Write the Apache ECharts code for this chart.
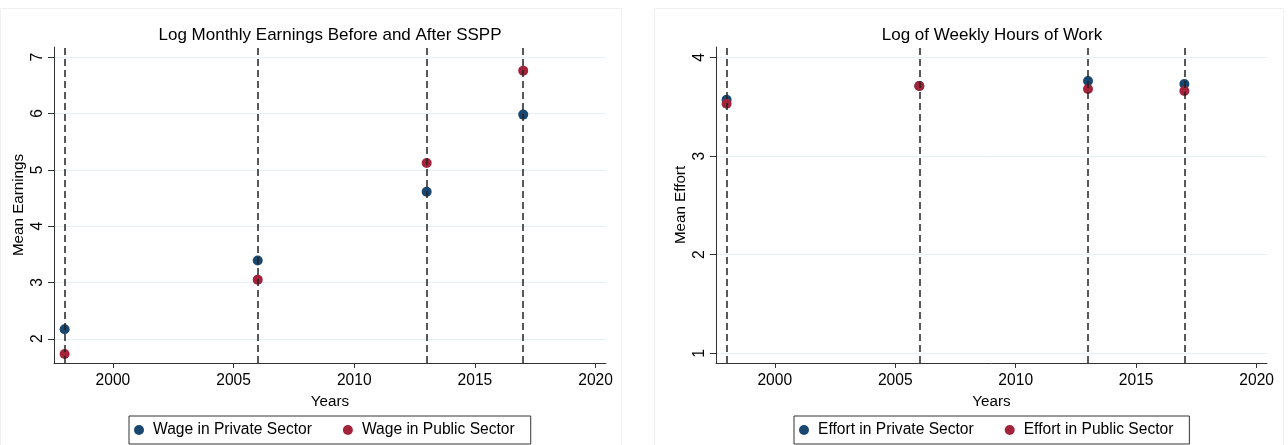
<!DOCTYPE html>
<html><head><meta charset="utf-8">
<script src="https://cdn.jsdelivr.net/npm/echarts@6/dist/echarts.min.js"></script>
<style>html,body{margin:0;padding:0;background:#fff}#c{width:1288px;height:445px}</style>
</head><body><div id="c"></div>
<script>
const years = [1998, 2006, 2013, 2017];
const wagePrivate = [2.17, 3.39, 4.61, 5.98];
const wagePublic = [1.73, 3.05, 5.12, 6.76];
const effortPrivate = [3.57, 3.71, 3.76, 3.73];
const effortPublic = [3.53, 3.71, 3.68, 3.66];
const xTicks = [2000, 2005, 2010, 2015, 2020];
const yTicksLeft = [2, 3, 4, 5, 6, 7];
const yTicksRight = [1, 2, 3, 4];
const vLines = [1998, 2006, 2013, 2017];

const FONT = "'Liberation Sans', Arial, Helvetica, sans-serif";
const NAVY = '#1a476f', MAROON = '#a3233a', AX = '#333';
const pair = (xs, ys) => xs.map((x, i) => [x, ys[i]]);

function xAxis(idx) {
  return {
    type: 'value', gridIndex: idx, min: 1997.56, max: 2020.43,
    name: 'Years', nameLocation: 'middle', nameGap: 26,
    nameTextStyle: {fontFamily: FONT, fontSize: 15.2, color: '#000'},
    axisLine: {show: true, onZero: false, lineStyle: {color: AX, width: 1}},
    axisTick: {show: true, length: 5, lineStyle: {color: AX}, customValues: xTicks},
    axisLabel: {customValues: xTicks, formatter: v => String(v), fontFamily: FONT, fontSize: 15.6, color: '#000', margin: 10},
    splitLine: {show: false}
  };
}
function yAxis(idx, min, max, ticks, name) {
  return {
    type: 'value', gridIndex: idx, min: min, max: max,
    name: name, nameLocation: 'middle', nameGap: 28, nameRotate: 90,
    nameTextStyle: {fontFamily: FONT, fontSize: 15.2, color: '#000'},
    axisLine: {show: true, onZero: false, lineStyle: {color: AX, width: 1}},
    axisTick: {show: true, length: 6, lineStyle: {color: AX}, customValues: ticks},
    axisLabel: {customValues: ticks, formatter: v => String(v), rotate: 90, fontFamily: FONT, fontSize: 15.6, color: '#000', margin: 8},
    splitLine: {show: true, lineStyle: {color: '#e6eff1', width: 1}}
  };
}
function vline(idx) {
  return {
    type: 'scatter', xAxisIndex: idx, yAxisIndex: idx, data: [], z: 1, silent: true,
    markLine: {
      silent: true, symbol: ['none', 'none'], label: {show: false},
      lineStyle: {color: '#222', type: [7, 4], width: 1.5},
      emphasis: {disabled: true},
      data: vLines.map(v => ({xAxis: v}))
    }
  };
}
function pts(idx, name, xs, ys, color) {
  return {
    type: 'scatter', name: name, xAxisIndex: idx, yAxisIndex: idx, z: 3,
    symbol: 'circle', symbolSize: 10, itemStyle: {color: color, opacity: 1},
    data: pair(xs, ys)
  };
}
function legend(left, names) {
  return {
    left: left, top: 416, orient: 'horizontal', itemGap: 31,
    itemWidth: 10, itemHeight: 10, icon: 'circle',
    padding: [6, 16, 6, 5], borderColor: '#333', borderWidth: 1,
    textStyle: {fontFamily: FONT, fontSize: 15.6, color: '#000', padding: [0, 0, 0, 4]},
    selectedMode: false, data: names
  };
}

const chart = echarts.init(document.getElementById('c'), null, {renderer: 'canvas'});
chart.setOption({
  animation: false,
  backgroundColor: '#fff',
  graphic: [
    {type: 'rect', shape: {x: 0.5, y: 8.5, width: 621, height: 450}, style: {fill: 'none', stroke: '#f0f0f0', lineWidth: 1}, silent: true, z: -10},
    {type: 'rect', shape: {x: 654.5, y: 8.5, width: 629, height: 450}, style: {fill: 'none', stroke: '#f0f0f0', lineWidth: 1}, silent: true, z: -10}
  ],
  title: [
    {text: 'Log Monthly Earnings Before and After SSPP', left: 325, top: 22, textAlign: 'center',
     textStyle: {fontFamily: FONT, fontSize: 17, fontWeight: 'normal', color: '#000'}},
    {text: 'Log of Weekly Hours of Work', left: 987, top: 22, textAlign: 'center',
     textStyle: {fontFamily: FONT, fontSize: 17, fontWeight: 'normal', color: '#000'}}
  ],
  grid: [
    {left: 54, top: 47, width: 552, height: 316, containLabel: false},
    {left: 716, top: 47, width: 551, height: 316, containLabel: false}
  ],
  xAxis: [xAxis(0), xAxis(1)],
  yAxis: [
    yAxis(0, 1.57, 7.18, yTicksLeft, 'Mean Earnings'),
    yAxis(1, 0.903, 4.105, yTicksRight, 'Mean Effort')
  ],
  legend: [
    legend(129, ['Wage in Private Sector', 'Wage in Public Sector']),
    legend(794, ['Effort in Private Sector', 'Effort in Public Sector'])
  ],
  series: [
    vline(0), vline(1),
    pts(0, 'Wage in Private Sector', years, wagePrivate, NAVY),
    pts(0, 'Wage in Public Sector', years, wagePublic, MAROON),
    pts(1, 'Effort in Private Sector', years, effortPrivate, NAVY),
    pts(1, 'Effort in Public Sector', years, effortPublic, MAROON)
  ]
});
</script></body></html>
